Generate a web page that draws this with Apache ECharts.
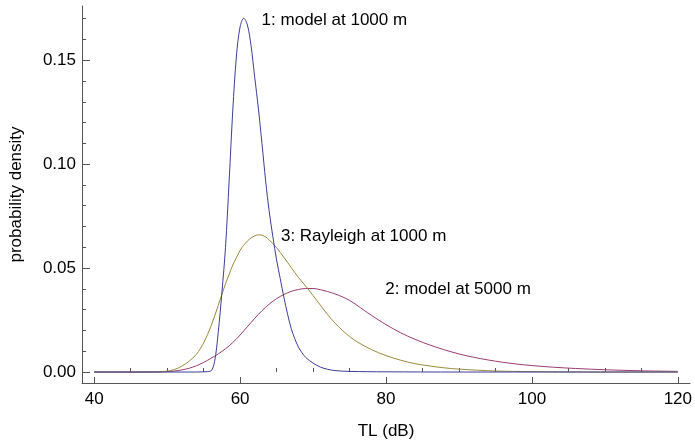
<!DOCTYPE html>
<html>
<head>
<meta charset="utf-8">
<script src="https://cdn.jsdelivr.net/npm/echarts@6.0.0/dist/echarts.min.js"></script>
<style>
html,body{margin:0;padding:0;background:#fff;}
#chart{width:695px;height:445px;}
</style>
</head>
<body>
<div id="chart"></div>
<script>
// ---- data ----
var seriesNames = ["1: model at 1000 m", "2: model at 5000 m", "3: Rayleigh at 1000 m"];

var model1000X = [40, 50, 54, 55, 55.5, 56, 56.5, 57, 57.5, 58, 58.5, 59, 59.5, 60, 60.5, 61, 61.5, 62, 62.5, 63, 63.5, 64, 64.5, 65, 65.5, 66, 66.5, 67, 67.5, 68, 68.5, 69, 70, 71, 72, 73, 75, 80, 90, 100, 120];
var model1000Y = [0, 0, 0, 0.0001, 0.0002, 0.0005, 0.005, 0.019, 0.038, 0.060, 0.092, 0.126, 0.152, 0.166, 0.1702, 0.167, 0.157, 0.142, 0.127, 0.110, 0.092, 0.077, 0.065, 0.054, 0.045, 0.036, 0.028, 0.021, 0.016, 0.012, 0.0092, 0.007, 0.0043, 0.0024, 0.0013, 0.0007, 0.0003, 0.0001, 0, 0, 0];

var model5000X = [40, 48, 50, 51, 52, 53, 54, 55, 56, 57, 58, 59, 60, 61, 62, 63, 64, 65, 66, 67, 68, 69, 70, 71, 72, 73, 74, 75, 76, 77, 78, 79, 80, 82, 84, 86, 88, 90, 92, 94, 96, 98, 100, 103, 106, 110, 115, 120];
var model5000Y = [0, 0, 0.0002, 0.0005, 0.001, 0.0018, 0.003, 0.0046, 0.0066, 0.0087, 0.0112, 0.0142, 0.0178, 0.0218, 0.0258, 0.0295, 0.0327, 0.0353, 0.0373, 0.0388, 0.0397, 0.0402, 0.0402, 0.0396, 0.0387, 0.0376, 0.0362, 0.0345, 0.0322, 0.0297, 0.0273, 0.025, 0.0228, 0.0189, 0.0157, 0.013, 0.0107, 0.0087, 0.0071, 0.0058, 0.0047, 0.0038, 0.0031, 0.0023, 0.0017, 0.0011, 0.0006, 0.0003];

var rayleighX = [40, 46, 48, 50, 51, 52, 53, 54, 55, 56, 57, 58, 58.5, 59, 59.5, 60, 60.5, 61, 61.5, 62, 62.5, 63, 63.5, 64, 65, 66, 67, 68, 69, 70, 71, 72, 73, 74, 75, 76, 78, 80, 82, 84, 86, 88, 90, 95, 100, 110, 120];
var rayleighY = [0, 0, 0.00005, 0.0004, 0.0012, 0.0028, 0.0052, 0.0085, 0.014, 0.022, 0.032, 0.0425, 0.047, 0.0515, 0.055, 0.0585, 0.061, 0.063, 0.0645, 0.0655, 0.066, 0.0658, 0.065, 0.0635, 0.0598, 0.0552, 0.0503, 0.0455, 0.0413, 0.0368, 0.0322, 0.0276, 0.0236, 0.0201, 0.0171, 0.0146, 0.0108, 0.0079, 0.0057, 0.004, 0.0029, 0.002, 0.0014, 0.0005, 0.0002, 0, 0];

// label anchor points (data coordinates, left edge of text)
var labelX = [62.95, 79.9, 65.6];
var labelY = [0.1694, 0.0398, 0.0653];

var xMajorTicks = [40, 60, 80, 100, 120];
var xMinorTicks = [45, 50, 55, 65, 70, 75, 85, 90, 95, 105, 110, 115];
var yMajorTicks = [0, 0.05, 0.10, 0.15];
var yMinorTicks = [0.01, 0.02, 0.03, 0.04, 0.06, 0.07, 0.08, 0.09, 0.11, 0.12, 0.13, 0.14, 0.16, 0.17];

var xName = "TL (dB)";
var yName = "probability density";
var xMin = 38.33, xMax = 121.67;
var yMin = -0.00528, yMax = 0.1761;

// ---- build ----
function pairs(xs, ys) { return xs.map(function (x, i) { return [x, ys[i]]; }); }
var colors = ["#3d3d99", "#993d71", "#998b3d"];
var dataSets = [pairs(model1000X, model1000Y), pairs(model5000X, model5000Y), pairs(rayleighX, rayleighY)];
var FONT = "'Liberation Sans', Arial, sans-serif";
var AXC = "#555555";

var series = dataSets.map(function (d, i) {
  return {
    name: seriesNames[i],
    type: "line",
    data: d,
    showSymbol: false,
    smooth: 0.35,
    xAxisIndex: 0,
    yAxisIndex: 0,
    lineStyle: { color: colors[i], width: 1 },
    itemStyle: { color: colors[i] },
    z: i === 0 ? 5 : (i === 2 ? 4 : 3),
    markPoint: {
      symbol: "circle",
      symbolSize: 0,
      silent: true,
      data: [{
        coord: [labelX[i], labelY[i]],
        label: {
          show: true,
          formatter: seriesNames[i],
          position: "right",
          distance: 0,
          color: "#000",
          fontSize: 17,
          fontFamily: FONT
        }
      }]
    }
  };
});

var chart = echarts.init(document.getElementById("chart"), null, { renderer: "canvas" });
chart.setOption({
  animation: false,
  backgroundColor: "#ffffff",
  grid: { left: 82, right: 0, top: 6, bottom: 61, containLabel: false },
  xAxis: [{
    type: "value", min: xMin, max: xMax, position: "bottom",
    axisLine: { show: true, onZero: false, lineStyle: { color: AXC, width: 1 } },
    axisTick: { show: true, inside: true, length: 6, customValues: xMajorTicks, lineStyle: { color: AXC } },
    axisLabel: { show: true, customValues: xMajorTicks, margin: 8, fontSize: 17, color: "#000", fontFamily: FONT },
    splitLine: { show: false },
    name: xName, nameLocation: "middle", nameGap: 40,
    nameTextStyle: { fontSize: 17, color: "#000", fontFamily: FONT }
  }, {
    type: "value", min: xMin, max: xMax, position: "bottom", offset: 0,
    axisLine: { show: false },
    axisTick: { show: true, inside: true, length: 4, customValues: xMinorTicks, lineStyle: { color: AXC } },
    axisLabel: { show: false },
    splitLine: { show: false }
  }],
  yAxis: [{
    type: "value", min: yMin, max: yMax, position: "left",
    axisLine: { show: true, onZero: false, lineStyle: { color: AXC, width: 1 } },
    axisTick: { show: true, inside: true, length: 8, customValues: yMajorTicks, lineStyle: { color: AXC } },
    axisLabel: {
      show: true, customValues: yMajorTicks, margin: 6, fontSize: 17, color: "#000", fontFamily: FONT,
      formatter: function (v) { return v.toFixed(2); }
    },
    splitLine: { show: false },
    name: yName, nameLocation: "middle", nameRotate: 90, nameGap: 57,
    nameTextStyle: { fontSize: 17, color: "#000", fontFamily: FONT }
  }, {
    type: "value", min: yMin, max: yMax, position: "left", offset: 0,
    axisLine: { show: false },
    axisTick: { show: true, inside: true, length: 4, customValues: yMinorTicks, lineStyle: { color: AXC } },
    axisLabel: { show: false },
    splitLine: { show: false }
  }],
  series: series
});
</script>
</body>
</html>
